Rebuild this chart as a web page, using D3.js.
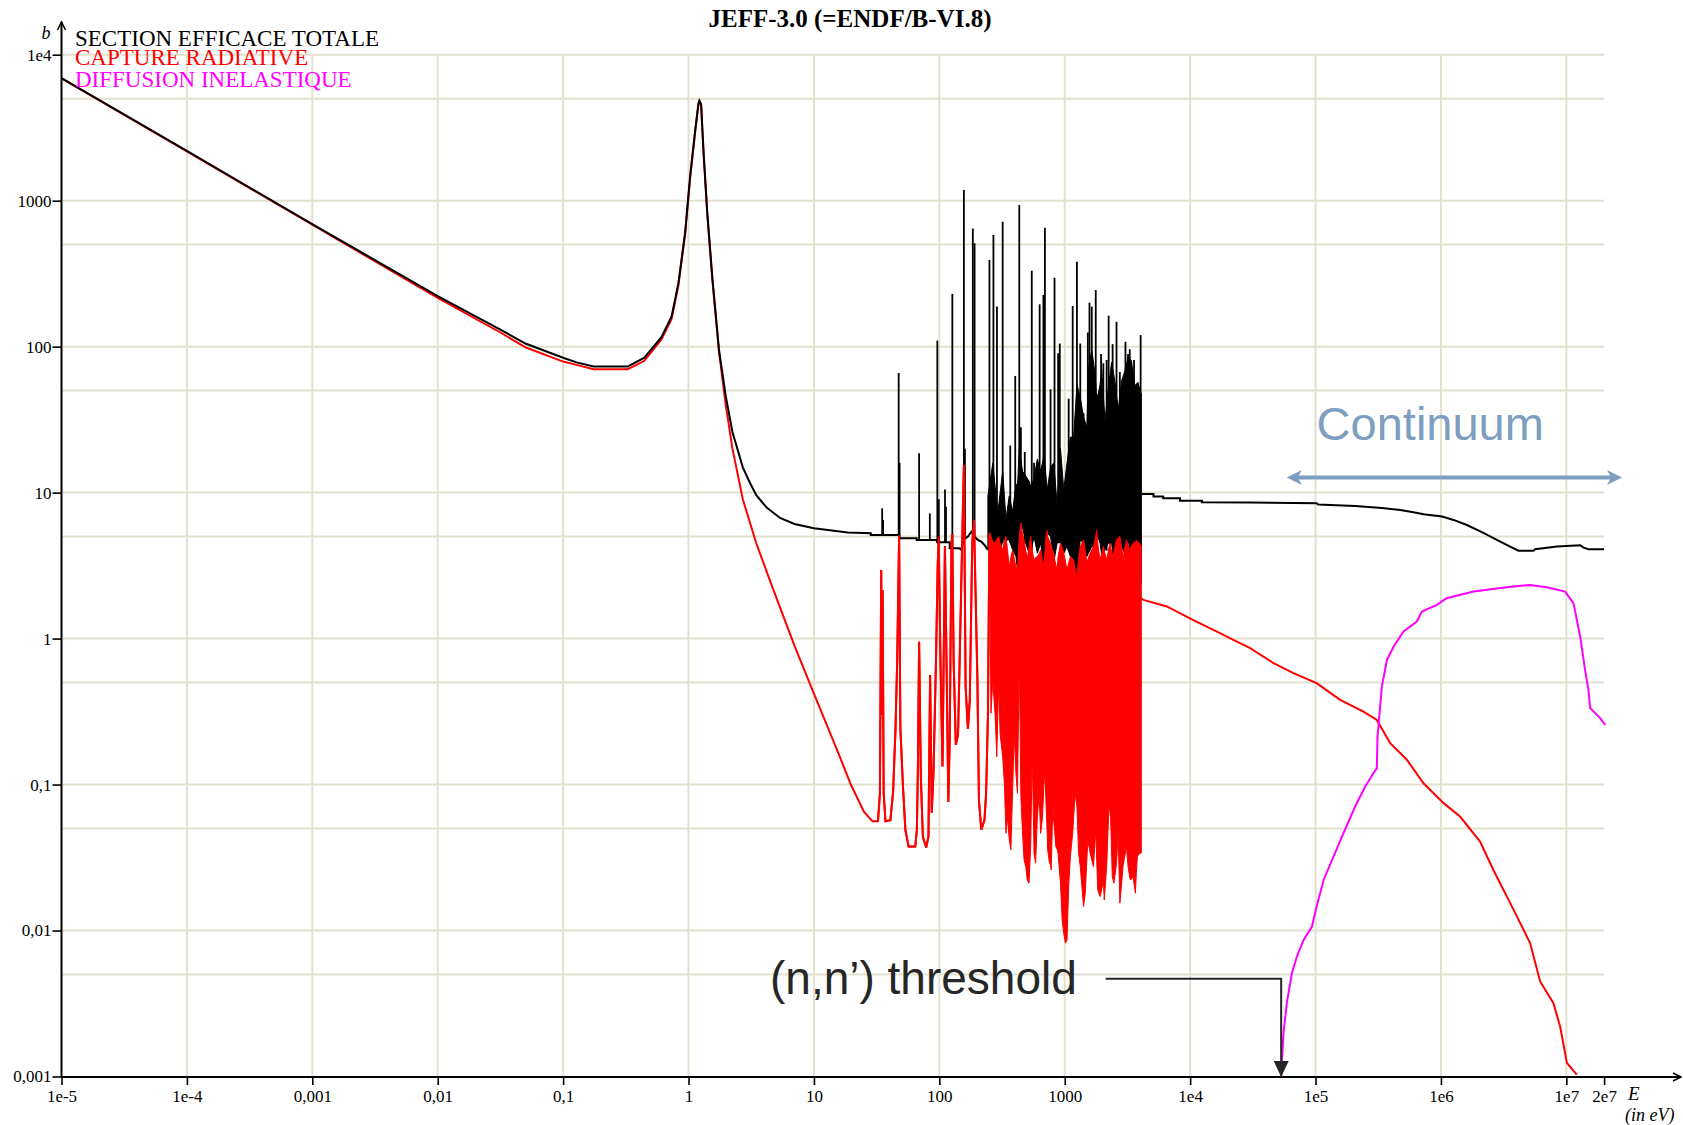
<!DOCTYPE html>
<html>
<head>
<meta charset="utf-8">
<script src="https://cdn.jsdelivr.net/npm/d3@7"></script>
<style>
  body { margin: 0; background: #fff; }
  .tick text { font-family: "Liberation Serif", serif; font-size: 17px; fill: #000; }
</style>
</head>
<body>
<div id="chart"></div>
<script>

// ---------- data (E in eV, sigma in barns) ----------
var xTicks = [1e-5, 1e-4, 1e-3, 1e-2, 1e-1, 1, 10, 100, 1000, 1e4, 1e5, 1e6, 1e7, 2e7];
var xTickLabels = ["1e-5", "1e-4", "0,001", "0,01", "0,1", "1", "10", "100", "1000", "1e4", "1e5", "1e6", "1e7", "2e7"];
var yTicks = [1e-3, 1e-2, 1e-1, 1, 10, 100, 1000, 1e4];
var yTickLabels = ["0,001", "0,01", "0,1", "1", "10", "100", "1000", "1e4"];
var yHalfGrid = [5e-3, 5e-2, 0.5, 5, 50, 500, 5000];

var legendLabels = ["SECTION EFFICACE TOTALE", "CAPTURE RADIATIVE", "DIFFUSION INELASTIQUE"];
var legendColors = ["#000000", "#ff0000", "#ff00ff"];

// total cross section, smooth part up to the resolved resonances
var totalLow = [[1e-5, 6900], [1e-4, 2190], [1e-3, 690], [0.01, 222], [0.0316, 131], [0.05, 105],
  [0.1, 84], [0.128, 78], [0.175, 73], [0.327, 73], [0.445, 84], [0.608, 116], [0.733, 161],
  [0.83, 271], [0.94, 606], [1.03, 1472], [1.13, 3036], [1.2, 4650], [1.22, 4850], [1.26, 4600],
  [1.32, 2113], [1.41, 837], [1.55, 294], [1.75, 95], [1.98, 46], [2.24, 26], [2.71, 14.9],
  [3.1, 11.6], [3.47, 9.6], [4.2, 7.9], [5.37, 6.7], [7, 6.1], [10, 5.7], [18.6, 5.33], [28.4, 5.27],
  [28.4, 5.13], [47, 5.13], [49, 4.87], [66, 4.87], [66, 4.74], [95, 4.74], [96, 4.57], [121, 4.57],
  [121, 4.15], [145, 4.15], [150, 4.05], [155, 4.74], [169, 5.0], [180, 5.4], [191, 5.0], [203, 4.74],
  [216, 4.62], [229, 4.38], [244, 4.05]];

// total: dense resonance band [E, low, high]
var totalBand = [[244, 4.05, 9.5], [267, 4.27, 16], [292, 3.11, 7.2], [320, 4.74, 14], [340, 4.74, 6.6],
  [361, 4.74, 9.5], [384, 4.05, 7.4], [408, 3.65, 11.5], [420, 2.95, 11], [434, 5.0, 20], [461, 5.85, 14],
  [489, 4.5, 13], [519, 3.84, 12], [535, 3.84, 11], [569, 5.0, 12.5], [605, 3.84, 17], [643, 4.5, 14],
  [683, 2.88, 18], [726, 5.27, 10.5], [771, 5.0, 15], [819, 3.37, 16], [870, 4.5, 8.2],
  [925, 4.74, 20], [982, 3.84, 10.5], [1043, 4.27, 16], [1109, 3.65, 24], [1178, 3.46, 24],
  [1251, 2.66, 55], [1330, 4.74, 45], [1413, 4.5, 33], [1500, 3.65, 28], [1546, 3.84, 70],
  [1643, 4.27, 95], [1746, 4.27, 65], [1800, 5.27, 42], [1913, 4.5, 55], [1972, 3.74, 70],
  [2094, 4.05, 31], [2224, 4.5, 52], [2365, 4.5, 78], [2512, 2.8, 58], [2668, 4.27, 37],
  [2837, 4.27, 58], [3013, 3.84, 68], [3200, 4.74, 85], [3403, 3.74, 80], [3614, 4.5, 54],
  [3838, 4.05, 57], [4030, 3.84, 48], [4080, 2.4, 48]];

// total: isolated resonance peaks [E, bottom, top]
var totalSpikes = [[35, 5.1, 7.8], [35.6, 5.1, 6.5], [47.4, 5.1, 66], [48.2, 5.0, 16], [69, 4.8, 18.6],
  [84, 4.74, 7.2], [96.4, 4.7, 110], [99, 4.6, 9], [111, 4.57, 10.5], [113, 4.57, 8], [127, 4.5, 230],
  [157, 4.5, 1183], [160, 4.8, 20], [185, 5.0, 645], [191, 5.0, 510], [251, 4.5, 393], [270, 4.5, 582],
  [288, 4.0, 188], [320, 4.5, 718], [368, 4.5, 21], [403, 4.5, 63], [434, 5.0, 933], [447, 5.0, 28],
  [480, 4.5, 19], [546, 4.0, 331], [569, 5.0, 16], [631, 4.5, 195], [676, 4.5, 226], [695, 4.5, 653],
  [771, 5.0, 51], [829, 4.0, 296], [886, 4.5, 90], [913, 4.5, 105], [1075, 4.0, 44], [1157, 4.0, 190],
  [1251, 4.0, 382], [1330, 4.7, 105], [1413, 4.5, 35], [1528, 4.0, 125], [1575, 4.0, 200],
  [1643, 4.3, 188], [1767, 4.5, 244], [1833, 5.0, 47], [1949, 4.5, 89], [2032, 4.0, 77],
  [2159, 4.0, 81], [2240, 4.5, 163], [2409, 4.5, 104], [2588, 4.0, 148], [2752, 4.3, 67],
  [3050, 4.0, 108], [3200, 4.7, 89], [3300, 4.0, 96], [3570, 4.5, 81], [3796, 4.0, 56], [4030, 4.0, 120]];

// total above the resonance region (continuum)
var totalHigh = [[4100, 9.8], [5100, 9.8], [5100, 9.4], [6100, 9.4], [6100, 9.16], [8300, 9.16],
  [8300, 8.8], [12400, 8.8], [12400, 8.6], [30000, 8.55], [102000, 8.47], [105000, 8.3],
  [207000, 8.1], [338000, 7.85], [473000, 7.6], [604000, 7.34], [726000, 7.1], [1.02e6, 6.85],
  [1.26e6, 6.5], [1.61e6, 6.0], [2.18e6, 5.3], [2.79e6, 4.74], [3.56e6, 4.27], [4.15e6, 4.0],
  [5.47e6, 4.0], [5.64e6, 4.1], [8.4e6, 4.27], [1.29e7, 4.36], [1.37e7, 4.2], [1.5e7, 4.1], [2.0e7, 4.1]];

// radiative capture, smooth part and first resonances
var captureLow = [[1e-5, 6880], [1e-4, 2180], [1e-3, 684], [0.01, 216], [0.0316, 125], [0.05, 99],
  [0.1, 79], [0.128, 75], [0.175, 70], [0.327, 70], [0.445, 80], [0.608, 112], [0.733, 155],
  [0.83, 262], [0.94, 590], [1.03, 1430], [1.13, 2950], [1.2, 4550], [1.22, 4750], [1.26, 4500],
  [1.32, 2050], [1.41, 810], [1.55, 285], [1.75, 92], [1.98, 40], [2.24, 20], [2.71, 9], [3.47, 4.5],
  [4.71, 2.2], [6.98, 0.9], [10, 0.42], [15.4, 0.17], [19.7, 0.1], [25.1, 0.065], [29.3, 0.056],
  [32.4, 0.056], [33.6, 0.087], [34.4, 2.95], [34.8, 0.3], [35.3, 2.15], [36, 0.087], [37.2, 0.056],
  [40.7, 0.057], [42.8, 0.089], [44.7, 0.237], [46.1, 0.68], [47.8, 5.1], [48.9, 0.243], [51.3, 0.097],
  [53.6, 0.049], [56.9, 0.0376], [64.3, 0.0376], [66.2, 0.049], [67.4, 0.12], [69, 0.95], [71.2, 0.113],
  [73.9, 0.044], [78.5, 0.037], [81.9, 0.044], [84.4, 0.564], [87, 0.064], [89.8, 0.12], [94.2, 0.75],
  [97, 3.1], [98.8, 5.0], [102, 0.77], [106, 0.133], [110.8, 4.3], [114, 0.75], [118, 0.076],
  [121, 0.2], [125, 4.5], [127, 5.2], [130, 0.71], [135.4, 0.187], [141, 0.22], [145.6, 0.79],
  [152, 4.5], [157, 15.5], [162, 0.47], [169, 0.24], [175, 0.38], [183, 4.5], [189, 6.5], [195, 1.84],
  [201, 0.55], [207, 0.078], [216, 0.049], [229, 0.057], [236, 0.087], [244, 0.29], [251, 5.3]];

// capture: dense resonance band [E, low, high]
var captureBand = [[251, 5.3, 5.3], [258, 0.308, 5.0], [267, 0.52, 4.6], [279, 0.292, 4.5], [287, 0.155, 4.8],
  [298, 0.52, 5.0], [305, 0.225, 4.5], [320, 0.155, 4.05], [330, 0.102, 4.6], [340, 0.0464, 5.0],
  [350, 0.06, 4.0], [361, 0.0418, 3.11], [372, 0.0357, 3.6], [384, 0.092, 4.05], [396, 0.225, 3.5],
  [408, 0.12, 3.11], [420, 0.087, 2.95], [434, 0.79, 5.0], [447, 0.083, 6.2], [461, 0.0464, 5.2],
  [474, 0.0305, 4.74], [489, 0.0274, 4.0], [503, 0.0222, 3.55], [519, 0.0211, 4.2], [535, 0.0376, 5.0],
  [551, 0.164, 4.0], [569, 0.0339, 3.46], [586, 0.0289, 3.6], [605, 0.06, 3.65], [624, 0.087, 3.8],
  [643, 0.0464, 4.05], [662, 0.0573, 3.5], [683, 0.1, 3.11], [695, 0.123, 4.0], [709, 0.0745, 5.0],
  [726, 0.045, 5.55], [731, 0.0357, 5.0], [753, 0.0297, 4.7], [771, 0.028, 4.5], [780, 0.026, 4.2],
  [803, 0.0707, 4.0], [819, 0.055, 3.84], [830, 0.0489, 3.5], [849, 0.0376, 3.2], [870, 0.036, 2.95],
  [884, 0.0339, 3.6], [925, 0.0211, 4.5], [954, 0.0118, 4.2], [982, 0.0096, 3.84], [1012, 0.0082, 3.4],
  [1043, 0.0086, 2.95], [1075, 0.02, 3.3], [1109, 0.0321, 3.65], [1157, 0.0464, 3.5], [1178, 0.06, 3.46],
  [1212, 0.087, 3.0], [1251, 0.0707, 2.66], [1290, 0.0339, 3.5], [1330, 0.0274, 4.27], [1371, 0.02, 4.5],
  [1413, 0.0146, 4.74], [1457, 0.018, 4.0], [1500, 0.03, 3.28], [1528, 0.0418, 3.5], [1595, 0.0339, 3.84],
  [1694, 0.0274, 4.27], [1767, 0.0489, 5.0], [1800, 0.03, 5.55], [1833, 0.019, 4.5], [1913, 0.0171, 3.46],
  [1994, 0.02, 4.0], [2032, 0.022, 4.27], [2066, 0.0162, 4.0], [2159, 0.0274, 3.46], [2253, 0.0707, 4.2],
  [2294, 0.065, 4.5], [2322, 0.06, 4.2], [2394, 0.0234, 3.8], [2437, 0.022, 3.65], [2468, 0.0211, 4.0],
  [2588, 0.0289, 4.74], [2668, 0.0464, 4.9], [2752, 0.0154, 5.0], [2873, 0.0234, 4.0], [2922, 0.028, 3.46],
  [2979, 0.0305, 4.0], [3105, 0.0376, 4.74], [3200, 0.0274, 4.4], [3300, 0.023, 4.05], [3359, 0.0222, 4.2],
  [3506, 0.0234, 4.5], [3659, 0.018, 4.6], [3726, 0.025, 4.74], [3796, 0.0321, 4.6], [3960, 0.0339, 4.5],
  [4080, 0.0339, 4.27]];

// capture above the resonance region
var captureHigh = [[4080, 1.89], [4250, 1.84], [6520, 1.66], [10600, 1.34], [17300, 1.09], [22100, 0.98],
  [25000, 0.93], [30100, 0.86], [46200, 0.68], [66600, 0.58], [102000, 0.495], [157000, 0.38],
  [241000, 0.316], [308000, 0.277], [394000, 0.192], [535000, 0.148], [726000, 0.102], [1.05e6, 0.0746],
  [1.42e6, 0.0604], [2.05e6, 0.0407], [2.62e6, 0.026], [3.79e6, 0.0139], [5.14e6, 0.0082],
  [6.18e6, 0.00448], [7.89e6, 0.00318], [8.92e6, 0.0022], [1.01e7, 0.00124], [1.21e7, 0.00103]];

// inelastic scattering (n,n')
var inelastic = [[53200, 0.001], [55500, 0.00198], [59000, 0.00318], [64700, 0.0051], [70900, 0.0066],
  [80100, 0.0086], [93500, 0.0106], [102000, 0.0146], [116000, 0.0222], [139000, 0.0321],
  [167000, 0.0465], [207000, 0.0707], [249000, 0.0969], [290000, 0.12], [308000, 0.129],
  [312000, 0.213], [324000, 0.308], [338000, 0.469], [371000, 0.714], [419000, 0.88], [503000, 1.12],
  [642000, 1.31], [704000, 1.53], [928000, 1.70], [1.11e6, 1.89], [1.82e6, 2.10], [3.35e6, 2.25],
  [5.14e6, 2.33], [6.98e6, 2.25], [9.77e6, 2.10], [1.14e7, 1.75], [1.29e7, 1.03], [1.41e7, 0.61],
  [1.5e7, 0.446], [1.55e7, 0.334], [1.86e7, 0.285], [2.04e7, 0.256]];

// annotations
var thresholdE = 53200, thresholdLineE = 2120, thresholdLineSigma = 0.00467;
var continuumE = [5.9e4, 2.78e7], continuumSigma = 12.7, continuumTextE = 1.02e5, continuumTextSigma = 23;

// ---------- layout ----------
var W = 1683, H = 1125;
var margin = {top: 54.7, left: 61.5};
var width = 1542.6, height = 1021.8;

var svg = d3.select("#chart")
  .append("svg")
    .attr("width", W)
    .attr("height", H)
    .style("font-family", "'Liberation Serif', serif");

var x = d3.scaleLog().domain([1e-5, 2e7]).range([margin.left, margin.left + width]);
var y = d3.scaleLog().domain([1e-3, 1e4]).range([margin.top + height, margin.top]);
var y0 = margin.top + height + 0.5;

// grid
var gridColor = "#e2e1cf";
svg.append("g").selectAll("line")
  .data(xTicks.slice(1, 13))
  .enter().append("line")
    .attr("x1", d => x(d)).attr("x2", d => x(d))
    .attr("y1", y(1e4)).attr("y2", y(1e-3))
    .attr("stroke", gridColor).attr("stroke-width", 2);
svg.append("g").selectAll("line")
  .data(yTicks.slice(1).concat(yHalfGrid))
  .enter().append("line")
    .attr("x1", x(1e-5)).attr("x2", x(2e7))
    .attr("y1", d => y(d)).attr("y2", d => y(d))
    .attr("stroke", gridColor).attr("stroke-width", 2);

// clip to the plotting box
svg.append("clipPath").attr("id", "plotclip")
  .append("rect").attr("x", x(1e-5)).attr("y", y(1e4) - 2).attr("width", width + 2).attr("height", height + 2);

var plot = svg.append("g").attr("clip-path", "url(#plotclip)");

var line = d3.line().x(d => x(d[0])).y(d => y(d[1]));
var band = d3.area().x(d => x(d[0])).y0(d => y(d[1])).y1(d => y(d[2]));

// capture smooth part goes under the total
plot.append("path").datum(captureLow)
  .attr("d", line).attr("fill", "none").attr("stroke", "#ff0000").attr("stroke-width", 2);

// total cross section (black)
plot.append("path").datum(totalLow)
  .attr("d", line).attr("fill", "none").attr("stroke", "#000").attr("stroke-width", 2);
plot.append("path").datum(totalBand)
  .attr("d", band).attr("fill", "#000").attr("stroke", "#000").attr("stroke-width", 1);
plot.append("g").selectAll("line")
  .data(totalSpikes)
  .enter().append("line")
    .attr("x1", d => x(d[0])).attr("x2", d => x(d[0]))
    .attr("y1", d => y(d[1])).attr("y2", d => y(d[2]))
    .attr("stroke", "#000").attr("stroke-width", 1.8);
plot.append("path").datum(totalHigh)
  .attr("d", line).attr("fill", "none").attr("stroke", "#000").attr("stroke-width", 2);

// capture resonances drawn over the total band
plot.append("path").datum(captureLow.filter(d => d[0] >= 30))
  .attr("d", line).attr("fill", "none").attr("stroke", "#ff0000").attr("stroke-width", 2);
plot.append("path").datum(captureBand)
  .attr("d", band).attr("fill", "#ff0000").attr("stroke", "#ff0000").attr("stroke-width", 1);
plot.append("path").datum(captureHigh)
  .attr("d", line).attr("fill", "none").attr("stroke", "#ff0000").attr("stroke-width", 2);

// inelastic (magenta)
plot.append("path").datum(inelastic)
  .attr("d", line).attr("fill", "none").attr("stroke", "#ff00ff").attr("stroke-width", 2);

// ---------- axes ----------
var xAxis = svg.append("g")
  .attr("transform", "translate(0," + y0 + ")")
  .call(d3.axisBottom(x).tickValues(xTicks).tickFormat((d, i) => xTickLabels[i]).tickSize(8).tickPadding(5));
xAxis.select(".domain").remove();
xAxis.selectAll(".tick line").attr("stroke-width", 1.6);

var yAxis = svg.append("g")
  .attr("transform", "translate(" + margin.left + ",0)")
  .call(d3.axisLeft(y).tickValues(yTicks).tickFormat((d, i) => yTickLabels[i]).tickSize(9).tickPadding(1));
yAxis.select(".domain").remove();
yAxis.selectAll(".tick line").attr("stroke-width", 1.6);

// axis lines with arrows
svg.append("line")
  .attr("x1", margin.left).attr("x2", 1681).attr("y1", y0).attr("y2", y0)
  .attr("stroke", "#000").attr("stroke-width", 2);
svg.append("path")
  .attr("d", "M1673," + (y0 - 4) + "L1681," + y0 + "L1673," + (y0 + 4))
  .attr("fill", "none").attr("stroke", "#000").attr("stroke-width", 1.5);
svg.append("line")
  .attr("x1", margin.left).attr("x2", margin.left).attr("y1", y0).attr("y2", 22)
  .attr("stroke", "#000").attr("stroke-width", 2);
svg.append("path")
  .attr("d", "M" + (margin.left - 4) + ",30L" + margin.left + ",22L" + (margin.left + 4) + ",30")
  .attr("fill", "none").attr("stroke", "#000").attr("stroke-width", 1.5);

// axis names
svg.append("text").attr("x", 46).attr("y", 39).attr("text-anchor", "middle")
  .style("font-style", "italic").style("font-size", "18px").text("b");
svg.append("text").attr("x", 1628).attr("y", 1100)
  .style("font-style", "italic").style("font-size", "19px").text("E");
svg.append("text").attr("x", 1625).attr("y", 1121)
  .style("font-style", "italic").style("font-size", "18px").text("(in eV)");

// title
svg.append("text").attr("x", 850).attr("y", 27).attr("text-anchor", "middle")
  .style("font-weight", "bold").style("font-size", "25px").text("JEFF-3.0 (=ENDF/B-VI.8)");

// legend
svg.append("g").selectAll("text")
  .data(legendLabels)
  .enter().append("text")
    .attr("x", 75)
    .attr("y", (d, i) => [46, 65, 87][i])
    .style("font-size", "23px")
    .attr("fill", (d, i) => legendColors[i])
    .text(d => d);

// (n,n') threshold annotation
var thX = x(thresholdE), thY = y(thresholdLineSigma);
svg.append("text").attr("x", 770).attr("y", thY + 15)
  .style("font-family", "'Liberation Sans', Arial, sans-serif").style("font-size", "46px")
  .attr("fill", "#262626").text("(n,n\u2019) threshold");
svg.append("path")
  .attr("d", "M" + x(thresholdLineE) + "," + thY + "H" + thX + "V" + (y0 - 14))
  .attr("fill", "none").attr("stroke", "#262626").attr("stroke-width", 2);
svg.append("path")
  .attr("d", "M" + (thX - 7.5) + "," + (y0 - 16) + "L" + (thX + 7.5) + "," + (y0 - 16) + "L" + thX + "," + y0 + "Z")
  .attr("fill", "#262626");

// continuum annotation
var contColor = "#7d9ec0";
var cx1 = x(continuumE[0]), cx2 = x(continuumE[1]), cy = y(continuumSigma);
svg.append("text").attr("x", x(continuumTextE)).attr("y", y(continuumTextSigma))
  .style("font-family", "'Liberation Sans', Arial, sans-serif").style("font-size", "47px")
  .attr("fill", contColor).text("Continuum");
svg.append("line")
  .attr("x1", cx1 + 6).attr("x2", cx2 - 6).attr("y1", cy).attr("y2", cy)
  .attr("stroke", contColor).attr("stroke-width", 4);
svg.append("path")
  .attr("d", "M" + cx1 + "," + cy + "L" + (cx1 + 15) + "," + (cy - 7.5) + "L" + (cx1 + 11) + "," + cy +
             "L" + (cx1 + 15) + "," + (cy + 7.5) + "Z")
  .attr("fill", contColor);
svg.append("path")
  .attr("d", "M" + cx2 + "," + cy + "L" + (cx2 - 15) + "," + (cy - 7.5) + "L" + (cx2 - 11) + "," + cy +
             "L" + (cx2 - 15) + "," + (cy + 7.5) + "Z")
  .attr("fill", contColor);

</script>
</body>
</html>
